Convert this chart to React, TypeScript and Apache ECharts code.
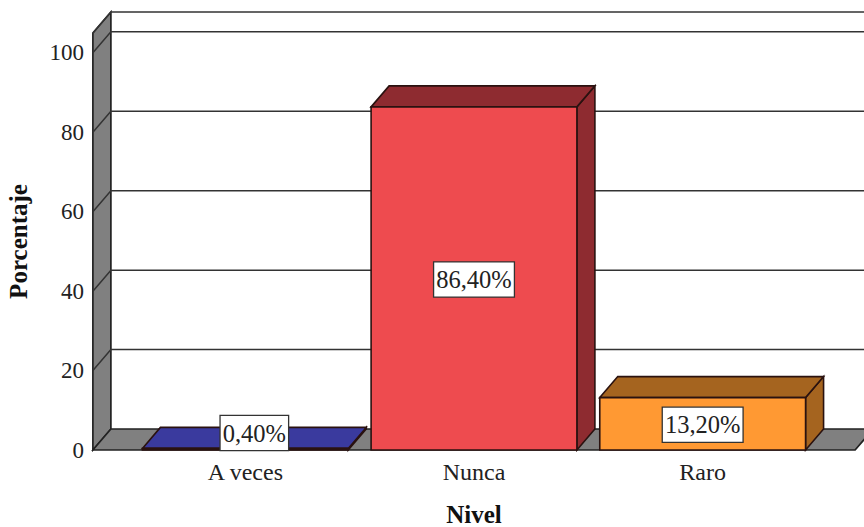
import React, { useEffect, useRef } from "react";
import * as echarts from "echarts";

const categories = ["A veces", "Nunca", "Raro"];
const values = [0.4, 86.4, 13.2];
const valueLabels = ["0,40%", "86,40%", "13,20%"];
const frontColors = ["#3A3A9E", "#EE4B4F", "#FF9933"];
const sideColors = ["#2A2A78", "#8E2B30", "#A5641F"];
const yTicks = [0, 20, 40, 60, 80, 100];
const yMax = 105;
const xTitle = "Nivel";
const yTitle = "Porcentaje";

const DEPTH_X = 18;
const DEPTH_Y = 21;
const BAR_RATIO = 0.9;
const FLOOR_PAD = 1 / 6;
const FONT = "'Liberation Serif', 'Times New Roman', serif";
const LINE = "#222222";
const WALL = "#808080";

export default function App() {
  const ref = useRef<HTMLDivElement>(null);
  useEffect(() => {
    document.body.style.margin = "0";
    const chart = echarts.init(ref.current!, undefined, { renderer: "svg" });

    const renderFrame = (_: any, api: any) => {
      const band = api.coord([1, 0])[0] - api.coord([0, 0])[0];
      const x0 = api.coord([0, 0])[0] - band * (0.5 + FLOOR_PAD);
      const x1 = api.coord([categories.length - 1, 0])[0] + band * (0.5 + FLOOR_PAD);
      const yBase = api.coord([0, 0])[1];
      const yTop = api.coord([0, yMax])[1];
      const children: any[] = [
        {
          type: "polygon",
          shape: { points: [[x0, yTop], [x0 + DEPTH_X, yTop - DEPTH_Y], [x0 + DEPTH_X, yBase - DEPTH_Y], [x0, yBase]] },
          style: { fill: WALL, stroke: LINE, lineWidth: 1.7 },
        },
        {
          type: "polygon",
          shape: { points: [[x0, yBase], [x0 + DEPTH_X, yBase - DEPTH_Y], [x1 + DEPTH_X, yBase - DEPTH_Y], [x1, yBase]] },
          style: { fill: WALL, stroke: LINE, lineWidth: 1.7 },
        },
      ];
      [...yTicks.filter((t) => t > 0), yMax].forEach((t) => {
        const y = api.coord([0, t])[1];
        children.push({
          type: "polyline",
          shape: { points: [[x0, y], [x0 + DEPTH_X, y - DEPTH_Y], [x1 + DEPTH_X, y - DEPTH_Y]] },
          style: { fill: "none", stroke: "#333333", lineWidth: 1.5 },
        });
      });
      return { type: "group", children };
    };

    const renderBar = (params: any, api: any) => {
      const i = api.value(0);
      const v = api.value(1);
      const band = api.coord([1, 0])[0] - api.coord([0, 0])[0];
      const w = band * BAR_RATIO;
      const cx = api.coord([i, 0])[0];
      const yBase = api.coord([i, 0])[1];
      const yVal = api.coord([i, v])[1];
      const l = cx - w / 2;
      const r = cx + w / 2;
      const stroke = { stroke: "#2a1210", lineWidth: 1.6 };
      const h = yBase - yVal;
      const small = h < 20;
      const lx = small ? cx + DEPTH_X / 2 : cx;
      const ly = small ? yBase - 17 : (yBase + yVal) / 2 + 1;
      return {
        type: "group",
        children: [
          {
            type: "polygon",
            shape: { points: [[r, yBase], [r + DEPTH_X, yBase - DEPTH_Y], [r + DEPTH_X, yVal - DEPTH_Y], [r, yVal]] },
            style: { fill: sideColors[i], ...stroke },
          },
          {
            type: "polygon",
            shape: { points: [[l, yVal], [l + DEPTH_X, yVal - DEPTH_Y], [r + DEPTH_X, yVal - DEPTH_Y], [r, yVal]] },
            style: { fill: small ? frontColors[i] : sideColors[i], ...stroke },
          },
          {
            type: "rect",
            shape: { x: l, y: yVal, width: w, height: h },
            style: { fill: frontColors[i], ...stroke },
          },
          {
            type: "text",
            x: lx,
            y: ly,
            style: {
              text: valueLabels[i],
              align: "center",
              verticalAlign: "middle",
              fontFamily: FONT,
              fontSize: 24.5,
              fill: "#222222",
              backgroundColor: "#ffffff",
              borderColor: "#333333",
              borderWidth: 1.3,
              padding: [5, 2, 4, 2],
            },
          },
        ],
      };
    };

    chart.setOption({
      animation: false,
      backgroundColor: "#ffffff",
      grid: { left: 131, right: 864 - 817, top: 33, bottom: 77, containLabel: false, outerBoundsMode: "none" },
      xAxis: {
        type: "category",
        data: categories,
        axisLine: { show: false },
        axisTick: { show: false },
        splitLine: { show: false },
        axisLabel: { fontFamily: FONT, fontSize: 24, color: "#222222", margin: 10 },
        name: xTitle,
        nameLocation: "middle",
        nameGap: 52,
        nameTextStyle: { fontFamily: FONT, fontSize: 25, fontWeight: "bold", color: "#111111" },
      },
      yAxis: {
        type: "value",
        min: 0,
        max: yMax,
        interval: 20,
        axisLine: { show: false },
        axisTick: { show: false },
        splitLine: { show: false },
        axisLabel: { fontFamily: FONT, fontSize: 23, color: "#222222", margin: 47, showMaxLabel: false, padding: [5, 0, 0, 0] },
        name: yTitle,
        nameLocation: "middle",
        nameGap: 100,
        nameRotate: 90,
        nameTextStyle: { fontFamily: FONT, fontSize: 25, fontWeight: "bold", color: "#111111" },
      },
      series: [
        { type: "custom", z: 1, silent: true, renderItem: renderFrame, data: [[0, 0]], encode: { x: 0, y: 1 } },
        {
          type: "custom",
          z: 2,
          silent: true,
          renderItem: renderBar,
          data: categories.map((_, i) => [i, values[i]]),
          encode: { x: 0, y: 1 },
        },
      ],
    });
    return () => chart.dispose();
  }, []);
  return <div ref={ref} style={{ width: 864, height: 527 }} />;
}
